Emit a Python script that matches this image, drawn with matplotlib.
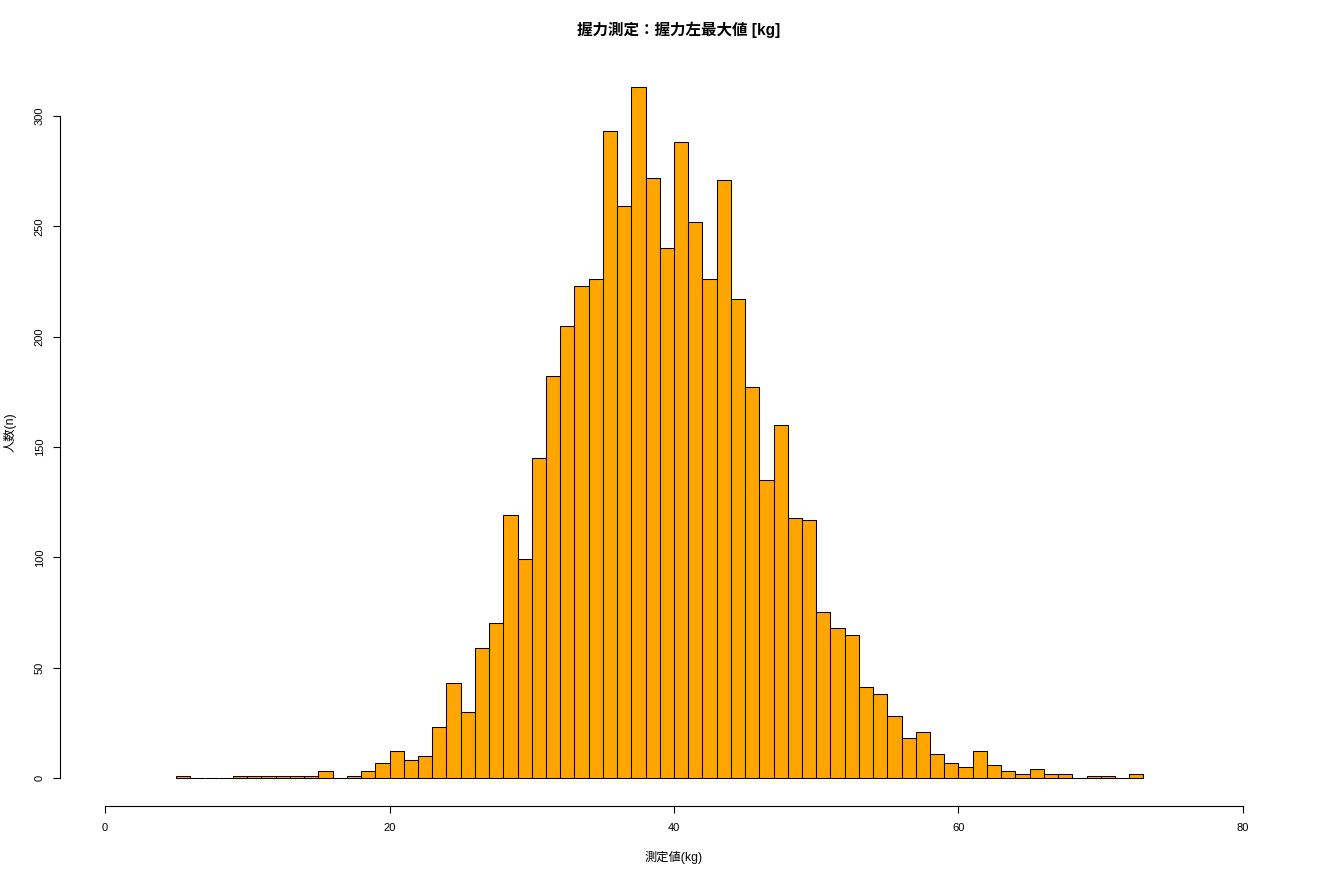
import matplotlib
matplotlib.use("Agg")
import matplotlib.pyplot as plt
import numpy as np

plt.rcParams['font.family'] = ['Liberation Sans', 'Noto Sans CJK JP', 'DejaVu Sans']

# histogram counts, 1 kg bins starting at 5 kg
bin_start = 5
counts = [1, 0, 0, 0, 1, 1, 1, 1, 1, 1,        # 5-14
          3, 0, 1, 3, 7, 12, 8, 10, 23, 43,     # 15-24
          30, 59, 70, 119, 99, 145, 182, 205, 223, 226,   # 25-34
          293, 259, 313, 272, 240, 288, 252, 226, 271, 217,  # 35-44
          177, 135, 160, 118, 117, 75, 68, 65, 41, 38,   # 45-54
          28, 18, 21, 11, 7, 5, 12, 6, 3, 2,     # 55-64
          4, 2, 2, 0, 1, 1, 0, 2]                # 65-72
x_ticks = [0, 20, 40, 60, 80]
y_ticks = [0, 50, 100, 150, 200, 250, 300]

title = "握力測定：握力左最大値 [kg]"
xlab = "測定値(kg)"
ylab = "人数(n)"

lefts = bin_start + np.arange(len(counts))

fig = plt.figure(figsize=(13.2, 8.8), dpi=100)
ax = fig.add_axes([59.5/1320, 1 - 805.6/880, (1288.5 - 59.5)/1320, (805.6 - 59.6)/880])

ax.bar(lefts, counts, width=1, align='edge', color='#FFA500',
       edgecolor='black', linewidth=0.75)

ymax = max(counts)
ax.set_xlim(-0.04*80, 80*1.04)
ax.set_ylim(-0.04*ymax, ymax*1.04)

for s in ['top', 'right']:
    ax.spines[s].set_visible(False)
ax.spines['bottom'].set_bounds(0, 80)
ax.spines['left'].set_bounds(0, 300)
ax.spines['bottom'].set_linewidth(0.8)
ax.spines['left'].set_linewidth(0.8)

ax.set_xticks(x_ticks)
ax.set_yticks(y_ticks)
ax.tick_params(direction='out', length=5, width=0.8, labelsize=8)
ax.tick_params(axis='x', pad=7.5)
ax.tick_params(axis='y', pad=5.5)
for lbl in ax.get_yticklabels():
    lbl.set_rotation(90)
    lbl.set_va('center')

fig.text(679/1320, 1 - 30/880, title, ha='center', va='center',
         fontsize=11.2, fontweight='bold')
fig.text(674/1320, 1 - 857/880, xlab, ha='center', va='center', fontsize=8.8)
fig.text(10/1320, 1 - 432/880, ylab, ha='center', va='center', fontsize=8.8,
         rotation=90)

fig.savefig("out.png", dpi=100)
